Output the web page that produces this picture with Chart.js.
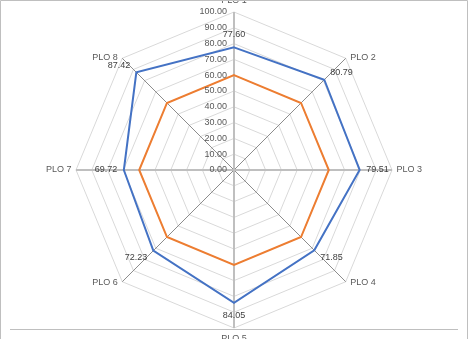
<!DOCTYPE html>
<html>
<head>
<meta charset="utf-8">
<script src="https://cdn.jsdelivr.net/npm/chart.js@4/dist/chart.umd.min.js"></script>
<style>
    html, body { margin: 0; padding: 0; background: #fff; }
    canvas { display: block; }
</style>
</head>
<body>
<canvas id="radarPlo" width="468" height="339"></canvas>
<script>
// outcomes around the radar and the two series
var etiquetas = ["PLO 1", "PLO 2", "PLO 3", "PLO 4", "PLO 5", "PLO 6", "PLO 7", "PLO 8"];
var logro = [77.60, 80.79, 79.51, 71.85, 84.05, 72.23, 69.72, 87.42];
var meta = [60, 60, 60, 60, 60, 60, 60, 60];
var marcas = [0, 10, 20, 30, 40, 50, 60, 70, 80, 90, 100];

var fuente = "9px 'Liberation Sans', Arial, sans-serif";

function signo(n) {
    if (Math.abs(n) < 1) return 0;
    return n > 0 ? 1 : -1;
}

// tick values, axis names, value labels and the outer frame
var textosRadar = {
    id: "textosRadar",
    afterDraw: function (chart) {
        var ctx = chart.ctx;
        var escala = chart.scales.r;
        var cx = escala.xCenter;
        var cy = escala.yCenter;

        ctx.save();
        ctx.font = fuente;

        // valores del eje
        ctx.fillStyle = "#595959";
        ctx.textAlign = "right";
        ctx.textBaseline = "middle";
        marcas.forEach(function (v) {
            var d = escala.getDistanceFromCenterForValue(v);
            ctx.fillText(v.toFixed(2), cx - 7, cy - d);
        });

        // nombres de los ejes
        etiquetas.forEach(function (txt, i) {
            var fin = escala.getPointPosition(i, escala.drawingArea);
            var sx = signo(fin.x - cx);
            var sy = signo(fin.y - cy);
            var x = fin.x, y = fin.y;
            if (sx === 0) {
                ctx.textAlign = "center";
                y = fin.y + sy * 11;
            } else {
                ctx.textAlign = sx > 0 ? "left" : "right";
                x = fin.x + sx * 4.5;
                y = fin.y + sy * 1;
            }
            ctx.fillText(txt, x, y);
        });

        // etiquetas de datos de la serie azul
        ctx.fillStyle = "#404040";
        logro.forEach(function (v, i) {
            var p = escala.getPointPositionForValue(i, v);
            var sx = signo(p.x - cx);
            var sy = signo(p.y - cy);
            var x = p.x, y = p.y;
            if (sx === 0) {
                ctx.textAlign = "center";
                y = p.y + sy * 13;
            } else if (sy === 0) {
                ctx.textAlign = sx > 0 ? "left" : "right";
                x = p.x + sx * 6.5;
            } else {
                ctx.textAlign = sx > 0 ? "left" : "right";
                x = p.x + sx * 6;
                y = p.y + sy * 7;
            }
            ctx.fillText(v.toFixed(2), x, y);
        });

        // marco
        ctx.strokeStyle = "#bfbfbf";
        ctx.lineWidth = 1;
        ctx.beginPath();
        ctx.moveTo(0.5, chart.height);
        ctx.lineTo(0.5, 0.5);
        ctx.lineTo(467.5, 0.5);
        ctx.lineTo(467.5, chart.height);
        ctx.moveTo(10, 329.5);
        ctx.lineTo(458, 329.5);
        ctx.stroke();
        ctx.restore();
    }
};

var radar = new Chart(document.getElementById("radarPlo").getContext("2d"), {
    type: "radar",
    data: {
        labels: etiquetas,
        datasets: [
            {
                label: "Logro",
                data: logro,
                borderColor: "#4472c4",
                borderWidth: 2,
                pointRadius: 0,
                fill: false
            },
            {
                label: "Meta",
                data: meta,
                borderColor: "#ed7d31",
                borderWidth: 2,
                pointRadius: 0,
                fill: false
            }
        ]
    },
    options: {
        responsive: false,
        animation: false,
        layout: { padding: { top: 12, bottom: 11, left: 0, right: 0 } },
        plugins: {
            legend: { display: false },
            tooltip: { enabled: false }
        },
        scales: {
            r: {
                min: 0,
                max: 100,
                ticks: { display: false, stepSize: 10 },
                pointLabels: { display: false },
                grid: { color: "#d9d9d9", lineWidth: 1 },
                angleLines: {
                    color: function (c) { return c.index % 2 === 0 ? "#bfbfbf" : "#8c8c8c"; },
                    lineWidth: function (c) { return c.index % 2 === 0 ? 2 : 1; }
                }
            }
        }
    },
    plugins: [textosRadar]
});
</script>
</body>
</html>
